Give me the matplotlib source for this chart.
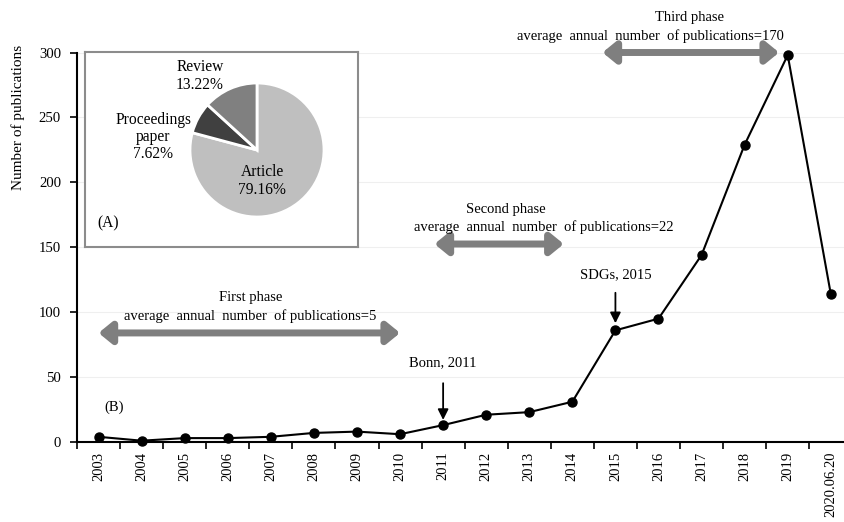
import matplotlib
matplotlib.use("Agg")
import matplotlib.pyplot as plt
from matplotlib.patches import FancyArrowPatch

plt.rcParams['font.family'] = ['Liberation Serif', 'DejaVu Serif']

years = ["2003", "2004", "2005", "2006", "2007", "2008", "2009", "2010", "2011",
         "2012", "2013", "2014", "2015", "2016", "2017", "2018", "2019", "2020.06.20"]
pubs = [4, 1, 3, 3, 4, 7, 8, 6, 13, 21, 23, 31, 86, 95, 144, 229, 298, 114]

doc_types = ["Article", "Proceedings\npaper", "Review"]
doc_share = [79.16, 7.62, 13.22]
doc_colors = ["#bfbfbf", "#404040", "#808080"]

fig = plt.figure(figsize=(8.45, 5.22), dpi=100)
ax = fig.add_axes([77/845, 1-442/522, 1-77/845, (442-52.5)/522])

x = list(range(len(years)))
ax.plot(x, pubs, color='black', lw=1.5, marker='o', markersize=6.5, zorder=3, clip_on=False)

ax.set_xlim(-0.5, 17.33)
ax.set_ylim(0, 300)
ax.set_yticks(range(0, 301, 50))
ax.yaxis.grid(True, color='#efefef', lw=0.8)
ax.set_axisbelow(True)
for s in ['top', 'right']:
    ax.spines[s].set_visible(False)
for s in ['left', 'bottom']:
    ax.spines[s].set_linewidth(1.5)
    ax.spines[s].set_color('black')

ax.set_xticks([i - 0.5 for i in range(len(years))])
ax.set_xticklabels([])
ax.set_xticks(x, minor=True)
ax.set_xticklabels(years, minor=True, rotation=90, fontsize=10.5)
ax.tick_params(axis='x', which='major', length=5, width=1.2, direction='out')
ax.tick_params(axis='x', which='minor', length=0, pad=7)
ax.tick_params(axis='y', length=5, width=1.2, labelsize=10.6, pad=6.5)

fig.text(18/845, 1-117/522, "Number of publications", rotation=90,
         ha='center', va='center', fontsize=11)

arrow_color = '#7f7f7f'
fs = 10.5
def phase_arrow(x0, x1, y):
    a = FancyArrowPatch((x0, y), (x1, y), arrowstyle='<|-|>,head_length=0.55,head_width=0.45',
                        mutation_scale=14, lw=5, color=arrow_color, shrinkA=0, shrinkB=0,
                        clip_on=False, zorder=2)
    ax.add_patch(a)

def txt(xv, yv, s):
    ax.text(xv, yv, s, ha='center', va='center', fontsize=fs, clip_on=False)

phase_arrow(0.0, 7.0, 84)
txt(3.53, 111, "First phase")
txt(3.53, 97, "average  annual  number  of publications=5")
phase_arrow(7.8, 10.8, 152.5)
txt(9.45, 178.7, "Second phase")
txt(10.33, 165.6, "average  annual  number  of publications=22")
phase_arrow(11.7, 15.8, 300)
txt(13.72, 326.7, "Third phase")
txt(12.82, 312.8, "average  annual  number  of publications=170")

ax.annotate("Bonn, 2011", xy=(8, 17), xytext=(8, 61), ha='center', va='center', fontsize=fs,
            arrowprops=dict(arrowstyle='-|>,head_length=0.6,head_width=0.3', color='black', lw=1.3,
                            shrinkA=8, shrinkB=0))
ax.annotate("SDGs, 2015", xy=(12, 91.5), xytext=(12, 128.5), ha='center', va='center', fontsize=fs,
            arrowprops=dict(arrowstyle='-|>,head_length=0.6,head_width=0.3', color='black', lw=1.3,
                            shrinkA=6, shrinkB=0))
ax.text(0.37, 27, "(B)", ha='center', va='center', fontsize=fs)

# inset pie
iw, ih = 273, 195
ins = fig.add_axes([85/845, 1-247/522, iw/845, ih/522])
ins.pie(doc_share, colors=doc_colors, startangle=90, counterclock=False,
        center=(172, 97), radius=67, wedgeprops=dict(edgecolor='white', linewidth=2))
ins.set_aspect('auto')
ins.set_xlim(0, iw)
ins.set_ylim(0, ih)
ins.set_xticks([])
ins.set_yticks([])
ins.set_frame_on(True)
for s in ins.spines.values():
    s.set_visible(True)
    s.set_color('#8c8c8c')
    s.set_linewidth(1.5)
pfs = 11.2
ins.text(115, 171, "Review\n13.22%", ha='center', va='center', fontsize=pfs, linespacing=1.12)
ins.text(68, 110, "Proceedings\npaper\n7.62%", ha='center', va='center', fontsize=pfs, linespacing=1.12)
ins.text(177, 66, "Article\n79.16%", ha='center', va='center', fontsize=pfs, linespacing=1.12)
ins.text(12, 24, "(A)", ha='left', va='center', fontsize=pfs)

fig.savefig("out.png", dpi=100)
